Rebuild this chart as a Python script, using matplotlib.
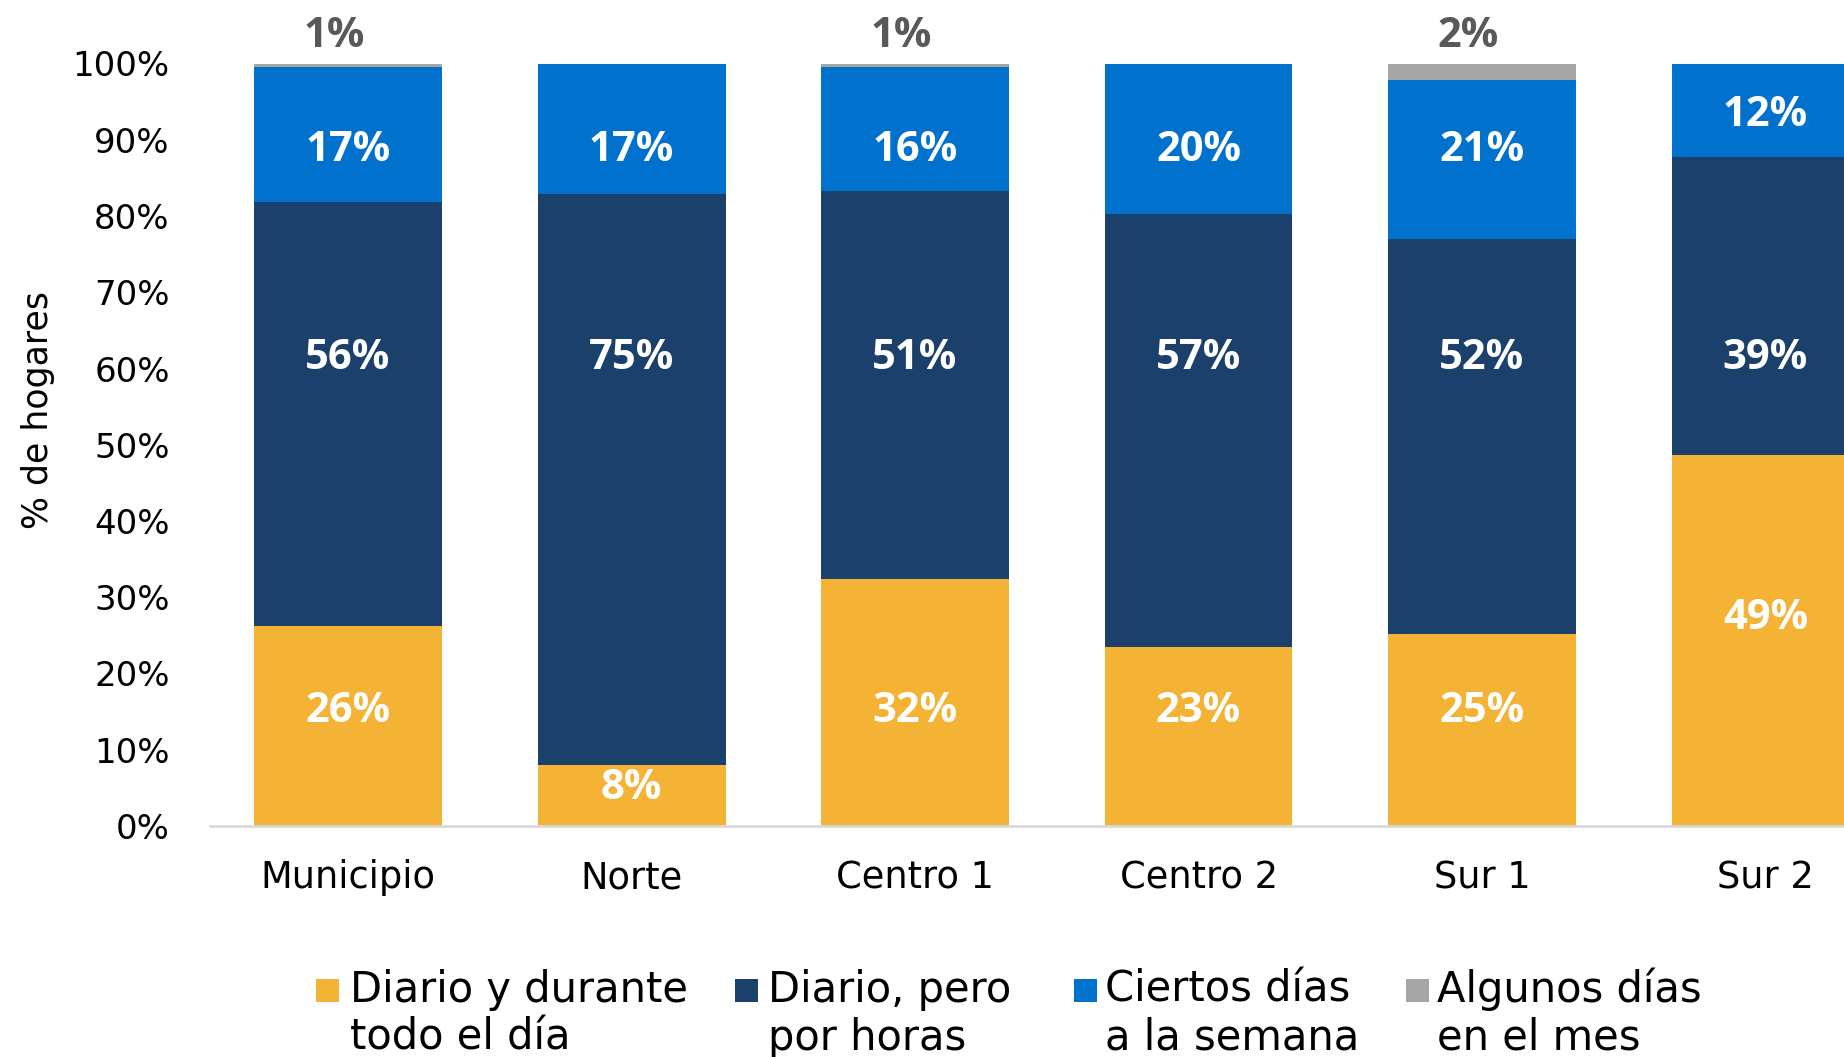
import matplotlib
matplotlib.use("Agg")
import matplotlib.pyplot as plt
from matplotlib.patches import Rectangle
import numpy as np

# ---- data ----
categories = ["Municipio", "Norte", "Centro 1", "Centro 2", "Sur 1", "Sur 2"]
series_names = [["Diario y durante", "todo el día"], ["Diario, pero", "por horas"],
                ["Ciertos días", "a la semana"], ["Algunos días", "en el mes"]]
diario_todo = [26.2, 8.0, 32.4, 23.5, 25.2, 48.6]
diario_horas = [55.7, 74.9, 50.9, 56.7, 51.8, 39.2]
ciertos_dias = [17.6, 17.1, 16.2, 19.8, 20.8, 12.2]
algunos_dias = [0.5, 0.0, 0.5, 0.0, 2.2, 0.0]
lbl_todo = ["26%", "8%", "32%", "23%", "25%", "49%"]
lbl_horas = ["56%", "75%", "51%", "57%", "52%", "39%"]
lbl_ciertos = ["17%", "17%", "16%", "20%", "21%", "12%"]
lbl_algunos = ["1%", "", "1%", "", "2%", ""]
yticks = [0, 10, 20, 30, 40, 50, 60, 70, 80, 90, 100]

# ---- layout (label placement, in axis % units) ----
pos_todo = [15.0, 4.9, 15.0, 15.0, 15.0, 27.2]
pos_horas = [61.3] * 6
pos_ciertos = [88.6, 88.6, 88.6, 88.6, 88.6, 93.2]
pos_algunos = 103.6

colors = ["#F4B335", "#1B406B", "#0072CE", "#A6A6A6"]

W, H = 1844, 1057
fig = plt.figure(figsize=(W / 100, H / 100), dpi=100)
ax = fig.add_axes([210 / W, 231 / H, 1 - 210 / W, (993.5 - 231) / H])

x = np.arange(len(categories))
w = 0.663
series = [diario_todo, diario_horas, ciertos_dias, algunos_dias]
bottom = np.zeros(len(categories))
for vals, col in zip(series, colors):
    ax.bar(x, vals, w, bottom=bottom, color=col, edgecolor="none", zorder=2)
    bottom += np.array(vals)

lab_font = dict(family="Open Sans", fontweight="bold", fontsize=30,
                ha="center", va="center")
for i in range(len(categories)):
    ax.text(x[i], pos_todo[i], lbl_todo[i], color="white", **lab_font)
    ax.text(x[i], pos_horas[i], lbl_horas[i], color="white", **lab_font)
    ax.text(x[i], pos_ciertos[i], lbl_ciertos[i], color="white", **lab_font)
    if lbl_algunos[i]:
        ax.text(x[i] - 0.05, pos_algunos, lbl_algunos[i], color="#595959",
                clip_on=False, **lab_font)

ax.set_xlim(-0.487, 5.277)
ax.set_ylim(0, 100)
ax.set_yticks(yticks)
ax.set_yticklabels([f"{t}%" for t in yticks], fontsize=24.5, family="DejaVu Sans")
ax.set_xticks(x)
ax.set_xticklabels(categories, fontsize=26.5, family="DejaVu Sans")
ax.tick_params(axis="y", length=0, pad=29)
ax.tick_params(axis="x", length=0, pad=24)
for s in ["top", "right", "left"]:
    ax.spines[s].set_visible(False)
ax.spines["bottom"].set_color("#D9D9D9")
ax.spines["bottom"].set_linewidth(2)
ax.spines["bottom"].set_zorder(3)

ax.set_ylabel("% de hogares", fontsize=25, family="DejaVu Sans", va="center")
ax.yaxis.set_label_coords(-(210 - 38) / (W - 210), (H - 410 - 231) / (993.5 - 231))

# ---- legend (manual, handles aligned with first text line) ----
handle_x = [316, 735, 1074, 1406]
text_x = [350, 768, 1105, 1437]
base1, base2, hs = 1002, 1050, 23
for hx, tx, col, lines in zip(handle_x, text_x, colors, series_names):
    fig.add_artist(Rectangle((hx / W, 1 - base1 / H), hs / W, hs / H,
                             transform=fig.transFigure, facecolor=col, edgecolor="none"))
    fig.text(tx / W, 1 - base1 / H, lines[0], fontsize=30, family="DejaVu Sans",
             ha="left", va="baseline")
    fig.text(tx / W, 1 - base2 / H, lines[1], fontsize=30, family="DejaVu Sans",
             ha="left", va="baseline")

fig.savefig("out.png", dpi=100)
